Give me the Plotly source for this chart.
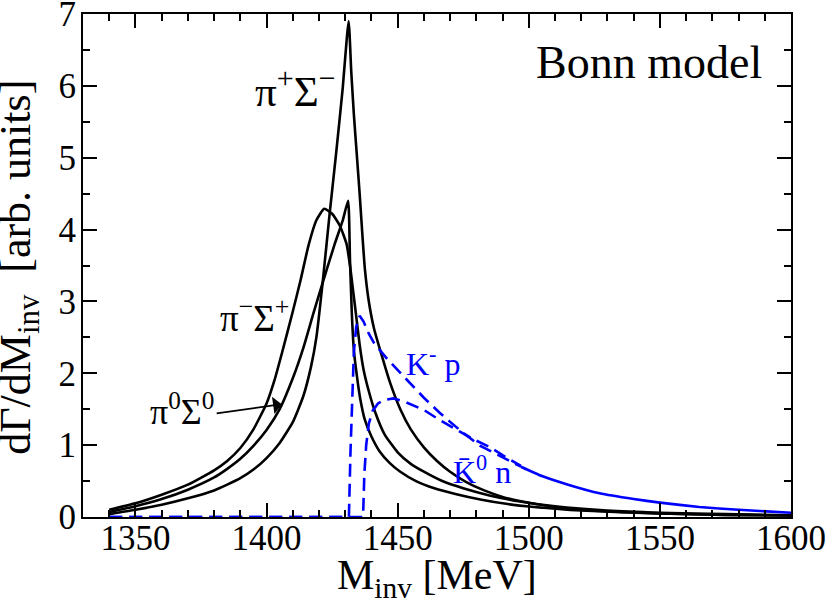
import plotly.graph_objects as go

# ---------------- data ----------------
# pi- Sigma+ (broad peak)
x_pimsigp = [1340, 1350, 1360, 1370, 1380, 1385, 1390, 1395, 1400, 1403, 1406, 1410, 1413,
             1416, 1419, 1422, 1425, 1428, 1430.5, 1432, 1433, 1434, 1435.5, 1437, 1439,
             1441.5, 1445, 1450, 1455, 1460, 1467, 1475, 1485, 1496, 1510, 1530, 1550, 1575, 1600]
y_pimsigp = [0.10, 0.19, 0.31, 0.45, 0.65, 0.78, 0.96, 1.22, 1.58, 1.90, 2.30, 2.86, 3.30,
             3.78, 4.13, 4.29, 4.22, 4.05, 3.80, 3.45, 3.15, 2.85, 2.40, 2.05, 1.75,
             1.45, 1.15, 0.90, 0.74, 0.63, 0.50, 0.40, 0.30, 0.22, 0.15, 0.09, 0.06, 0.04, 0.025]

# pi0 Sigma0
x_pi0sig0 = [1340, 1350, 1360, 1370, 1380, 1385, 1390, 1395, 1400, 1405, 1410, 1414, 1418,
             1422, 1426, 1429, 1431.1, 1431.8, 1432.5, 1433.3, 1434.5, 1435.7, 1437.5, 1440,
             1443, 1447, 1451, 1457, 1464, 1472, 1482, 1492, 1502, 1520, 1550, 1575, 1600]
y_pi0sig0 = [0.07, 0.15, 0.25, 0.38, 0.55, 0.67, 0.81, 0.99, 1.21, 1.50, 1.93, 2.35, 2.85,
             3.33, 3.80, 4.12, 4.40, 3.60, 2.85, 2.32, 1.95, 1.65, 1.35, 1.12,
             0.92, 0.75, 0.63, 0.50, 0.40, 0.32, 0.24, 0.18, 0.14, 0.09, 0.05, 0.03, 0.02]

# pi+ Sigma- (tall narrow peak)
x_pipsigm = [1340, 1350, 1360, 1370, 1380, 1385, 1390, 1395, 1400, 1405, 1410, 1414, 1417,
             1419, 1421.5, 1424, 1426.5, 1429, 1431.3, 1432.3, 1433.3, 1434.5, 1435.5, 1436.5,
             1437.5, 1439, 1441, 1443.5, 1447, 1451, 1455, 1460, 1465, 1470, 1476, 1483,
             1490, 1497, 1508, 1520, 1535, 1550, 1575, 1600]
y_pipsigm = [0.04, 0.10, 0.17, 0.26, 0.37, 0.45, 0.54, 0.66, 0.82, 1.03, 1.32, 1.68, 2.10,
             2.50, 3.30, 4.20, 5.05, 5.95, 6.90, 6.20, 5.60, 5.00, 4.50, 3.95,
             3.45, 3.00, 2.62, 2.30, 1.88, 1.50, 1.22, 0.97, 0.78, 0.63, 0.49, 0.37,
             0.28, 0.22, 0.15, 0.10, 0.07, 0.05, 0.03, 0.02]

# K- p
x_kmp = [1340, 1431.4, 1432.0, 1432.6, 1433.3, 1434.2, 1435.5, 1437, 1439, 1441, 1446, 1453.5,
         1460, 1466, 1474, 1481.5, 1490, 1497, 1505, 1515, 1527, 1540, 1550, 1565, 1580, 1600]
y_kmp = [0.0, 0.0, 0.90, 1.70, 2.30, 2.65, 2.80, 2.72, 2.55, 2.42, 2.20, 1.91,
         1.66, 1.45, 1.20, 0.99, 0.83, 0.70, 0.57, 0.45, 0.33, 0.25, 0.20, 0.14, 0.10, 0.06]

# K0bar n
x_k0n = [1340, 1436.8, 1437.3, 1438, 1439, 1440.5, 1442.5, 1445, 1448.4, 1453, 1460, 1466,
         1472.6, 1479, 1485.3, 1490, 1497]
y_k0n = [0.0, 0.0, 0.60, 1.00, 1.30, 1.48, 1.58, 1.63, 1.65, 1.60, 1.49, 1.35,
         1.21, 1.08, 0.97, 0.86, 0.71]

x_ticks = [1350, 1400, 1450, 1500, 1550, 1600]
y_ticks = [0, 1, 2, 3, 4, 5, 6, 7]

FONT = "Liberation Serif"
BLUE = "#0000ff"

fig = go.Figure()

for xs, ys in [(x_pimsigp, y_pimsigp), (x_pi0sig0, y_pi0sig0), (x_pipsigm, y_pipsigm)]:
    fig.add_trace(go.Scatter(x=xs, y=ys, mode="lines", cliponaxis=False,
                             line=dict(color="black", width=2.6, shape="spline", smoothing=0.5),
                             showlegend=False, hoverinfo="skip"))

# dashed blue curves up to where they merge, then the merged (solid-looking) tail
i_merge = x_kmp.index(1497)
fig.add_trace(go.Scatter(x=x_kmp[:i_merge + 1], y=y_kmp[:i_merge + 1], mode="lines", cliponaxis=False,
                         line=dict(color=BLUE, width=2.6, dash="13px,7px"),
                         showlegend=False, hoverinfo="skip"))
fig.add_trace(go.Scatter(x=x_k0n, y=y_k0n, mode="lines", cliponaxis=False,
                         line=dict(color=BLUE, width=2.6, dash="13px,7px"),
                         showlegend=False, hoverinfo="skip"))
fig.add_trace(go.Scatter(x=x_kmp[i_merge:], y=y_kmp[i_merge:], mode="lines", cliponaxis=False,
                         line=dict(color=BLUE, width=2.6, shape="spline", smoothing=0.5),
                         showlegend=False, hoverinfo="skip"))

def lab(size, color="black"):
    return dict(family=FONT, size=size, color=color)

ann = [
    dict(x=1546, y=6.33, text="Bonn model", font=lab(46)),
    dict(x=1411.0, y=5.97, text="π<sup>+</sup>Σ<sup>−</sup>", font=lab(43)),
    dict(x=1395.3, y=2.81, text="π<sup>−</sup>Σ<sup>+</sup>", font=lab(37)),
    dict(x=1367.8, y=1.49, text="π<sup>0</sup>Σ<sup>0</sup>", font=lab(36)),
    dict(x=1463.6, y=2.16, text="K<sup>-</sup> p", font=lab(32, BLUE)),
    dict(x=1482.3, y=0.65, text="K̄<sup>0</sup> n", font=lab(32, BLUE)),
]
annotations = [dict(a, xref="x", yref="y", showarrow=False, xanchor="center", yanchor="middle")
               for a in ann]
annotations.append(dict(x=1405.8, y=1.57, ax=1380.4, ay=1.44, xref="x", yref="y",
                        axref="x", ayref="y", text="", showarrow=True, arrowhead=1,
                        arrowsize=1.6, arrowwidth=1.8, arrowcolor="black"))
# axis titles
annotations.append(dict(x=0.5, y=-0.122, xref="paper", yref="paper", xanchor="center",
                        yanchor="middle", showarrow=False, text="M<sub>inv</sub> [MeV]",
                        font=lab(42)))
annotations.append(dict(x=-0.092, y=0.497, xref="paper", yref="paper", xanchor="center",
                        yanchor="middle", showarrow=False, textangle=-90,
                        text="dΓ/dM<sub>inv</sub>  [arb. units]", font=lab(44)))

axis_common = dict(
    showgrid=False, zeroline=False, showline=True, linecolor="black", linewidth=2,
    mirror="ticks", ticks="inside", ticklen=14, tickwidth=1.8, tickcolor="black",
    tickfont=lab(35), automargin=False, ticklabeloverflow="allow",
)

fig.update_layout(
    width=830, height=608,
    margin=dict(l=83, r=39, t=14, b=91),
    paper_bgcolor="white", plot_bgcolor="white",
    annotations=annotations,
    xaxis=dict(axis_common, range=[1330, 1600], tickvals=x_ticks, ticklabelstandoff=-11,
               minor=dict(ticks="inside", ticklen=7, tickwidth=1.5, tickcolor="black", dtick=10,
                          tick0=1330, showgrid=False)),
    yaxis=dict(axis_common, range=[0, 7], tickvals=y_ticks, ticklabelstandoff=-2,
               minor=dict(ticks="inside", ticklen=7, tickwidth=1.5, tickcolor="black", dtick=0.5,
                          tick0=0, showgrid=False)),
)

# remove the default page margin so the figure fills the window exactly; no modebar
fig.write_html("out.html", config={"displayModeBar": False},
               post_script="document.body.style.margin='0';")
